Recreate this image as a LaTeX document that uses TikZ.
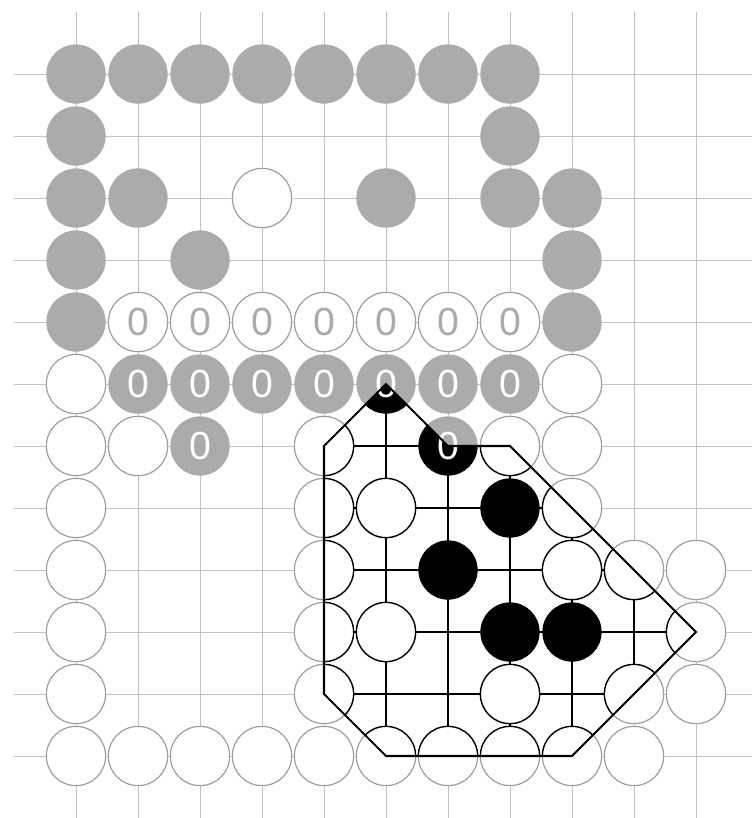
\documentclass[tikz,border=0pt]{standalone}
\usepackage{fontspec}
\setmainfont{Liberation Sans}
\usepackage{tikz}
\definecolor{linegray}{rgb}{0.76, 0.76, 0.76}
\definecolor{stonegray}{rgb}{0.67, 0.67, 0.67}
\definecolor{rimgray}{rgb}{0.62, 0.62, 0.62}

\tikzset{
  gridline/.style={draw=linegray, line width=0.45pt},
  blackstone/.style={fill=stonegray},
  whitestone/.style={fill=white, draw=rimgray, line width=0.55pt},
  blackmark/.style={text=white, inner sep=0pt, font=\fontsize{18}{18}\selectfont},
  whitemark/.style={text=stonegray, inner sep=0pt, font=\fontsize{18}{18}\selectfont},
}

% one full drawing of the board, looks come from the styles in force
\newcommand{\goposition}{%
  \foreach \r in {1,...,12} \draw[gridline] (0,-\r) -- (11.95,-\r);
  \foreach \c in {1,...,11} \draw[gridline] (\c,0) -- (\c,-13);
  \foreach \c/\r in {1/1,2/1,3/1,4/1,5/1,6/1,7/1,8/1, 1/2,8/2, 1/3,2/3,6/3,8/3,9/3,
      1/4,3/4,9/4, 1/5,9/5, 8/8, 7/9, 8/10,9/10}
    \fill[blackstone] (\c,-\r) circle (0.478);
  \foreach \c/\r in {4/3, 1/6,9/6, 1/7,2/7,5/7,8/7,9/7, 1/8,5/8,6/8,9/8,
      1/9,5/9,9/9,10/9,11/9, 1/10,5/10,6/10,11/10, 1/11,5/11,8/11,10/11,11/11,
      1/12,2/12,3/12,4/12,5/12,6/12,7/12,8/12,9/12,10/12}
    \filldraw[whitestone] (\c,-\r) circle (0.478);
  \foreach \c/\r in {2/6,3/6,4/6,5/6,6/6,7/6,8/6, 3/7,7/7} {
    \fill[blackstone] (\c,-\r) circle (0.478);
    \node[blackmark] (mark\c-\r) at (\c,-\r) {0};
  }
  \foreach \c/\r in {2/5,3/5,4/5,5/5,6/5,7/5,8/5} {
    \filldraw[whitestone] (\c,-\r) circle (0.478);
    \node[whitemark] (mark\c-\r) at (\c,-\r) {0};
  }
}

\begin{document}
\begin{tikzpicture}
  \useasboundingbox (-0.226,0.194) rectangle (11.903,-13);
  \goposition
  % the region shown in full strength
  \begin{scope}[gridline/.style={draw=black, line width=0.5pt},
      blackstone/.style={fill=black},
      whitestone/.style={fill=white, draw=black, line width=0.65pt},
      whitemark/.style={text=black, inner sep=0pt, font=\fontsize{18}{18}\selectfont}]
    \clip (6,-6) -- (7,-7) -- (8,-7) -- (11,-10) -- (9,-12) -- (6,-12) -- (5,-11) -- (5,-7) -- cycle;
    \fill[white] (4,-5) rectangle (12,-13);
    \goposition
  \end{scope}
  \draw[line width=0.95pt, line join=miter] (6,-6) -- (7,-7) -- (8,-7) -- (11,-10) -- (9,-12)
    -- (6,-12) -- (5,-11) -- (5,-7) -- cycle;
\end{tikzpicture}
\end{document}
